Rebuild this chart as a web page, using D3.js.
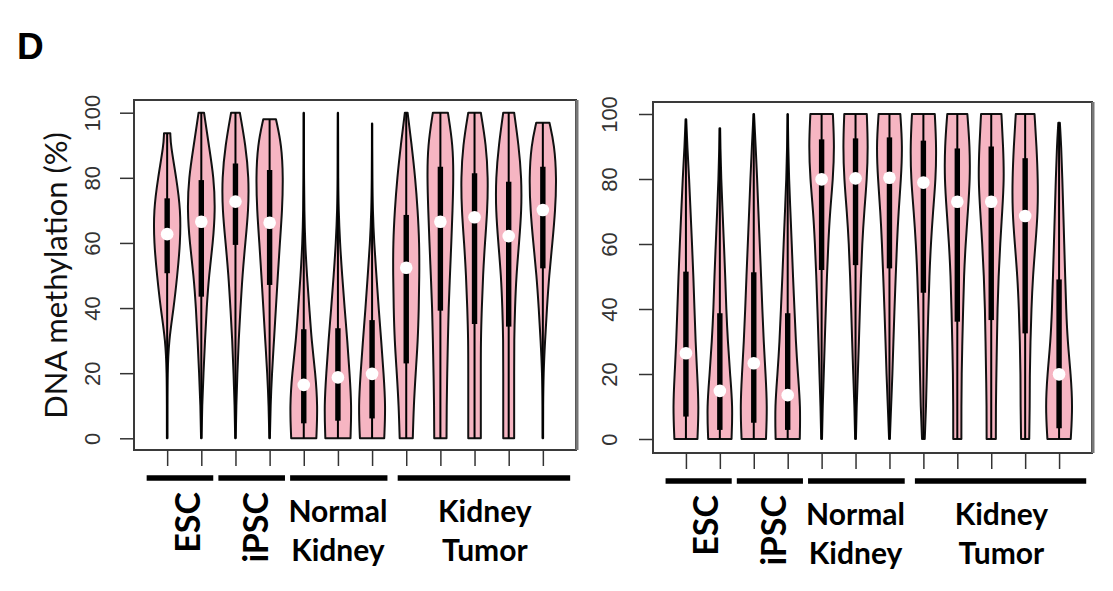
<!DOCTYPE html>
<html>
<head>
<meta charset="utf-8">
<script src="https://cdn.jsdelivr.net/npm/d3@7"></script>
<style>
body { margin: 0; background: #fff; }
</style>
</head>
<body>
<script>
var width = 1113;
var height = 591;

// samples on the x axis, 12 per panel
var samples = [1, 2, 3, 4, 5, 6, 7, 8, 9, 10, 11, 12];
var yTicks = [0, 20, 40, 60, 80, 100];
// density is read at these methylation levels (relative width, 1 = widest)
var levels = [0, 10, 20, 30, 40, 50, 60, 70, 80, 90, 100];

var groupLabels = [["ESC"], ["iPSC"], ["Normal", "Kidney"], ["Kidney", "Tumor"]];
var groupRotated = [true, true, false, false];
var groupSpans = [[0.4, 2.35], [2.5, 4.45], [4.6, 7.45], [7.75, 12.8]];
var groupLabelX = [1.95, 3.95, 6.0, 10.3];

// left panel
var leftMax = [93.7, 100, 100, 98, 100, 100, 96.7, 100, 100, 100, 100, 96.9];
var leftQ1 = [50.7, 43.5, 59.4, 47.1, 4.6, 5.4, 6.1, 23, 39.2, 35.1, 34.3, 52.2];
var leftMedian = [62.7, 66.5, 72.7, 66.2, 16.4, 18.7, 19.8, 52.4, 66.5, 67.9, 62.1, 70.1];
var leftQ3 = [73.7, 79.3, 84.4, 82.4, 33.5, 33.8, 36.3, 68.6, 83.4, 81.4, 78.8, 83.4];
var leftDensity = [
    [0.02, 0.02, 0.03, 0.12, 0.48, 0.74, 0.96, 0.99, 0.67, 0.26, 0.18],
    [0.02, 0.06, 0.16, 0.27, 0.39, 0.56, 0.85, 1.02, 0.92, 0.55, 0.20],
    [0.02, 0.06, 0.14, 0.23, 0.37, 0.51, 0.72, 0.95, 0.98, 0.74, 0.32],
    [0.02, 0.07, 0.17, 0.32, 0.46, 0.60, 0.75, 0.92, 0.99, 0.88, 0.36],
    [0.92, 1.02, 0.85, 0.57, 0.41, 0.23, 0.10, 0.04, 0.02, 0.01, 0.01],
    [0.92, 1.00, 0.85, 0.69, 0.49, 0.31, 0.15, 0.05, 0.02, 0.02, 0.01],
    [0.89, 0.99, 0.84, 0.67, 0.48, 0.32, 0.15, 0.05, 0.02, 0.01, 0.01],
    [0.48, 0.55, 0.69, 0.85, 0.92, 0.96, 0.96, 0.84, 0.66, 0.40, 0.10],
    [0.45, 0.46, 0.50, 0.55, 0.60, 0.70, 0.80, 0.89, 0.96, 0.92, 0.55],
    [0.46, 0.46, 0.46, 0.46, 0.53, 0.62, 0.76, 0.94, 0.99, 0.85, 0.46],
    [0.40, 0.40, 0.40, 0.40, 0.46, 0.56, 0.76, 0.94, 0.94, 0.73, 0.40],
    [0.02, 0.02, 0.05, 0.16, 0.30, 0.46, 0.70, 0.91, 1.00, 0.85, 0.32]
];

// right panel
var rightMax = [98.4, 95.6, 100, 100, 100, 100, 100, 100, 100, 100, 100, 97.3];
var rightQ1 = [6.9, 2.8, 5, 2.8, 52, 53.5, 52.5, 45, 36.1, 36.6, 32.5, 3.3];
var rightMedian = [26.4, 14.8, 23.3, 13.5, 79.9, 80.2, 80.4, 78.9, 73, 73, 68.6, 19.9];
var rightQ3 = [51.5, 38.7, 51.3, 38.7, 92.2, 92.5, 92.8, 91.8, 89.4, 90, 86.4, 49.1];
var rightDensity = [
    [0.85, 0.95, 0.83, 0.71, 0.63, 0.55, 0.45, 0.34, 0.24, 0.10, 0.01],
    [0.86, 0.95, 0.75, 0.59, 0.47, 0.40, 0.30, 0.20, 0.10, 0.04, 0.01],
    [0.90, 0.99, 0.87, 0.73, 0.63, 0.54, 0.44, 0.34, 0.25, 0.14, 0.02],
    [0.89, 0.94, 0.75, 0.60, 0.50, 0.39, 0.30, 0.20, 0.10, 0.04, 0.01],
    [0.03, 0.08, 0.16, 0.23, 0.31, 0.39, 0.49, 0.62, 0.84, 0.94, 0.83],
    [0.03, 0.08, 0.17, 0.25, 0.32, 0.40, 0.49, 0.64, 0.84, 0.92, 0.83],
    [0.03, 0.12, 0.22, 0.29, 0.37, 0.46, 0.55, 0.67, 0.85, 0.96, 0.80],
    [0.10, 0.20, 0.25, 0.30, 0.37, 0.44, 0.55, 0.71, 0.91, 0.96, 0.84],
    [0.30, 0.30, 0.32, 0.37, 0.43, 0.49, 0.61, 0.78, 0.94, 0.92, 0.74],
    [0.34, 0.34, 0.38, 0.42, 0.46, 0.54, 0.66, 0.81, 0.95, 0.88, 0.75],
    [0.30, 0.34, 0.34, 0.39, 0.46, 0.57, 0.76, 0.94, 0.94, 0.84, 0.69],
    [0.86, 1.00, 0.86, 0.63, 0.52, 0.45, 0.38, 0.31, 0.24, 0.16, 0.02]
];

var halfWidth = 0.40;   // widest half-violin, in x units
var pink = "#f6b5c2";

var svg = d3.select("body").append("svg")
            .attr("width", width)
            .attr("height", height);

svg.append("text")
   .text("D")
   .attr("x", 17)
   .attr("y", 59)
   .attr("font-family", "Liberation Sans, Arial, sans-serif")
   .attr("font-weight", "bold")
   .attr("font-size", "37px");

var panels = [
    { left: 134, right: 576, top: 100, bottom: 450, y0: 438.3, y100: 112.7, labelOff: 34, title: true,
      max: leftMax, q1: leftQ1, med: leftMedian, q3: leftQ3, dens: leftDensity },
    { left: 653, right: 1092, top: 102, bottom: 453, y0: 439, y100: 114, labelOff: 36, title: false,
      max: rightMax, q1: rightQ1, med: rightMedian, q3: rightQ3, dens: rightDensity }
];

// width of the violin at value v, linear between the read levels
var widthAt = function(d, v) {
    var i = Math.min(Math.floor(v / 10), 9);
    var t = (v - levels[i]) / 10;
    return d[i] + (d[i + 1] - d[i]) * t;
};

var draw = function(p) {
    var x = d3.scaleLinear().domain([0, 13]).range([p.left - 1, p.right + 1]);
    var y = d3.scaleLinear().domain([0, 100]).range([p.y0, p.y100]);
    var g = svg.append("g");

    // frame
    g.append("rect")
     .attr("x", p.left).attr("y", p.top)
     .attr("width", p.right - p.left).attr("height", p.bottom - p.top)
     .attr("fill", "none").attr("stroke", "#3a3a3a").attr("stroke-width", 2);
    g.append("line")
     .attr("x1", p.right + 1).attr("x2", p.right + 1)
     .attr("y1", p.top).attr("y2", p.bottom)
     .attr("stroke", "#777").attr("stroke-width", 3);

    // y axis
    var yAxis = g.append("g")
        .attr("transform", "translate(" + p.left + ",0)")
        .call(d3.axisLeft(y).tickValues(yTicks).tickSize(14).tickFormat(d3.format("d")));
    yAxis.select(".domain").remove();
    yAxis.selectAll("line").attr("stroke", "#333").attr("stroke-width", 1.5);
    yAxis.selectAll("text")
         .attr("x", null).attr("dy", null)
         .attr("text-anchor", "middle")
         .attr("transform", "translate(" + (-p.labelOff) + ",0) rotate(-90)")
         .attr("font-family", "Liberation Sans, Arial, sans-serif")
         .attr("font-size", "22px")
         .attr("fill", "#333");

    // x ticks, no labels
    var xAxis = g.append("g")
        .attr("transform", "translate(0," + p.bottom + ")")
        .call(d3.axisBottom(x).tickValues(samples).tickSize(16).tickFormat(""));
    xAxis.select(".domain").remove();
    xAxis.selectAll("line").attr("stroke", "#333").attr("stroke-width", 1.5);

    // violins
    var area = d3.area()
        .curve(d3.curveBasis)
        .y(function(d) { return y(d.v); })
        .x0(function(d) { return x(d.c - d.w * halfWidth); })
        .x1(function(d) { return x(d.c + d.w * halfWidth); });

    samples.forEach(function(c, i) {
        var dens = p.dens[i];
        var top = p.max[i];
        var pts = levels.filter(function(v) { return v < top; })
                        .map(function(v, k) { return { v: v, w: dens[k], c: c }; });
        pts.push({ v: top, w: widthAt(dens, top), c: c });

        g.append("path")
         .attr("d", area(pts))
         .attr("fill", pink)
         .attr("stroke", "#111")
         .attr("stroke-width", 2)
         .attr("stroke-linejoin", "round");

        // range line
        g.append("line")
         .attr("x1", x(c)).attr("x2", x(c))
         .attr("y1", y(0)).attr("y2", y(top))
         .attr("stroke", "#000").attr("stroke-width", 2);
        // interquartile bar
        g.append("rect")
         .attr("x", x(c) - 2.7).attr("width", 5.4)
         .attr("y", y(p.q3[i])).attr("height", y(p.q1[i]) - y(p.q3[i]))
         .attr("fill", "#000");
        // median
        g.append("circle")
         .attr("cx", x(c)).attr("cy", y(p.med[i])).attr("r", 6.3)
         .attr("fill", "#fff");
    });

    // group bars and labels
    var barY = p.bottom + 28;
    groupSpans.forEach(function(s, i) {
        g.append("line")
         .attr("x1", x(s[0])).attr("x2", x(s[1]))
         .attr("y1", barY).attr("y2", barY)
         .attr("stroke", "#000").attr("stroke-width", 5.5);
        if (groupRotated[i]) {
            g.append("text")
             .text(groupLabels[i][0])
             .attr("text-anchor", "end")
             .attr("transform", "translate(" + x(groupLabelX[i]) + "," + (p.bottom + 42) + ") rotate(-90)")
             .attr("font-family", "Lato, sans-serif")
             .attr("font-weight", "bold")
             .attr("font-size", "34px");
        } else {
            groupLabels[i].forEach(function(t, k) {
                g.append("text")
                 .text(t)
                 .attr("x", x(groupLabelX[i]))
                 .attr("y", barY + 44 + k * 39)
                 .attr("text-anchor", "middle")
                 .attr("font-family", "Lato, sans-serif")
                 .attr("font-weight", "bold")
                 .attr("font-size", "30px");
            });
        }
    });

    if (p.title) {
        g.append("text")
         .text("DNA methylation (%)")
         .attr("text-anchor", "middle")
         .attr("transform", "translate(67," + y(50) + ") rotate(-90)")
         .attr("font-family", "Lato, sans-serif")
         .attr("font-size", "31px")
         .attr("fill", "#111");
    }
};

panels.forEach(draw);
</script>
</body>
</html>
